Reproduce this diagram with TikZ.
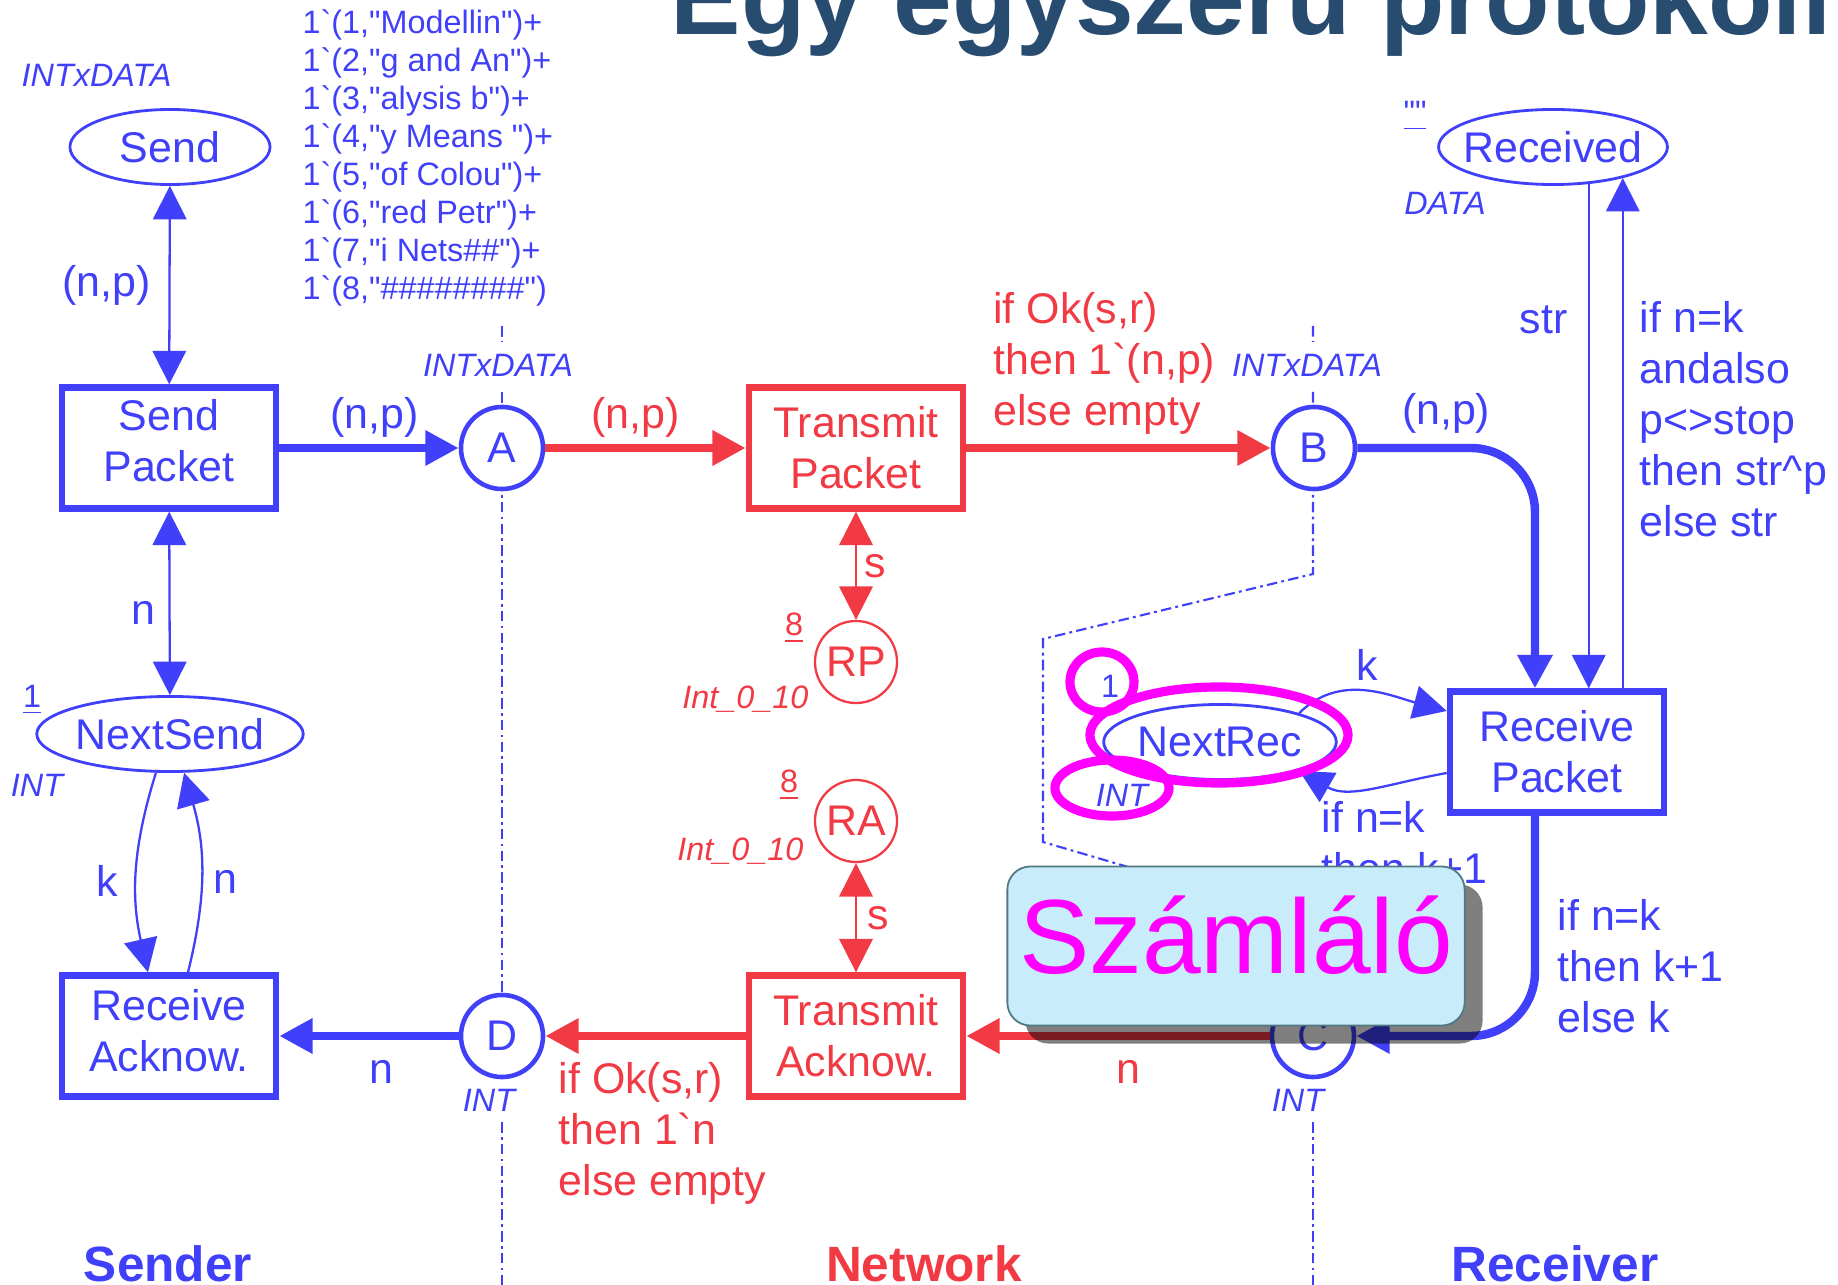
\documentclass[tikz,border=0pt]{standalone}
\usepackage{fontspec}
\setmainfont{Liberation Sans}
\newfontfamily\netfont{Liberation Sans}
\usetikzlibrary{arrows.meta,positioning,shapes.geometric,shadows}

\definecolor{netblue}{RGB}{64,64,250}
\definecolor{netred}{RGB}{242,58,68}
\definecolor{titleblue}{RGB}{40,76,112}
\definecolor{notecyan}{RGB}{200,236,250}
\definecolor{noteedge}{RGB}{80,120,130}
\definecolor{notepink}{RGB}{255,0,255}

\begin{document}
\begin{tikzpicture}[x=0.01cm, y=-0.01cm,
    every node/.style={inner sep=0pt, font=\netfont\fontsize{12.2}{14.5}\selectfont},
    >={Triangle[length=9.5pt,width=9.5pt]},
    trans/.style={draw, rectangle, line width=1.8pt, fill=white, minimum width=2.14cm, minimum height=1.21cm, align=center},
    place/.style={draw, circle, line width=1.3pt, fill=white, minimum size=0.82cm},
    pool/.style={draw, ellipse, line width=0.8pt, fill=white, minimum height=0.75cm},
    colset/.style={font=\netfont\itshape\fontsize{9.2}{11}\selectfont},
    initmark/.style={font=\netfont\fontsize{9.2}{10.8}\selectfont},
    fat/.style={line width=2.4pt},
    lean/.style={line width=0.65pt},
    sideline/.style={netblue, line width=0.6pt, dash pattern=on 3pt off 1.2pt on 0.8pt off 1.2pt},
    circled/.style={notepink, line width=2.6pt},
    blueitem/.style={draw=netblue, text=netblue},
    reditem/.style={draw=netred, text=netred}]
  \useasboundingbox (0,0) rectangle (1838,1285);
  \clip (0,0) rectangle (1838,1285);

  \node[anchor=base west, text=titleblue, font=\netfont\bfseries\fontsize{30}{30}\selectfont] (title) at (670,35) {Egy egyszerű protokoll};

  \draw[sideline] (502,326) -- (502,342) (502,392) -- (502,420) (502,480) -- (502,1000) (502,1122) -- (502,1285);
  \draw[sideline] (1313,326) -- (1313,342) (1313,392) -- (1313,420) (1313,480) -- (1313,574) -- (1043,639) -- (1043,842) -- (1200,888);
  \draw[sideline] (1313,1122) -- (1313,1285);

  \node[pool, blueitem, minimum width=2cm] (send) at (170,147) {Send};
  \node[trans, blueitem] (sendpkt) at (169,448) {Send\\Packet\rule[-0.16cm]{0pt}{0pt}};
  \node[pool, blueitem] (nextsend) at (170,734) {NextSend};
  \node[trans, blueitem] (recack) at (169,1036) {Receive\\Acknow.\rule[-0.12cm]{0pt}{0pt}};
  \node[place, blueitem] (A) at (502,448) {A};
  \node[place, blueitem] (B) at (1314,448) {B};
  \node[place, blueitem] (C) at (1313,1036) {C};
  \node[place, blueitem] (D) at (502,1036) {D};
  \node[trans, reditem] (transpkt) at (856,448) {Transmit\\Packet};
  \node[trans, reditem] (transack) at (856,1036) {Transmit\\Acknow.};
  \node[place, reditem, line width=0.65pt] (RP) at (856,662) {RP};
  \node[place, reditem, line width=0.65pt] (RA) at (856,821) {RA};
  \node[trans, blueitem] (recpkt) at (1557,752) {Receive\\Packet};
  \node[pool, blueitem, inner xsep=-0.085cm] (received) at (1553,147) {Received};
  \node[pool, blueitem] (nextrec) at (1220,742) {NextRec};

  \draw[<->, lean, netblue] (send) -- (sendpkt) node[midway, left=0.18cm] (np1) {(n,p)};
  \draw[<->, lean, netblue] (sendpkt) -- (nextsend) node[pos=0.55, left=0.13cm] (n1) {n};
  \draw[->, lean, netblue] (nextsend.250) to[bend right=15] node[pos=0.55, left=0.17cm] (k1) {k} ([xshift=-0.21cm]recack.north);
  \draw[->, lean, netblue] ([xshift=0.19cm]recack.north) to[bend right=15] node[pos=0.45, right=0.11cm] (n2) {n} (nextsend.290);
  \draw[->, fat, netblue] (sendpkt) -- (A) node[pos=0.53, above=0.06cm] (np2) {(n,p)};
  \draw[->, fat, netred] (A) -- (transpkt) node[pos=0.45, above=0.06cm] (np3) {(n,p)};
  \draw[->, fat, netred] (transpkt) -- (B) node[pos=0, anchor=south west, xshift=0.23cm, yshift=0.09cm, align=left] (ok1) {if Ok(s,r)\\then 1`(n,p)\\else empty};
  \draw[->, fat, netblue, rounded corners=0.64cm] (B) -| ([xshift=-0.22cm]recpkt.north) node[pos=0.25, above=0.1cm] (np4) {(n,p)};
  \draw[->, lean, netblue] (received.314) -- (received.314 |- recpkt.north) node[pos=0.27, left=0.2cm] (str1) {str};
  \draw[<-, lean, netblue] (received.336) -- (received.336 |- recpkt.north) node[pos=0.24, anchor=north west, xshift=0.16cm, align=left] (guard1) {if n=k\\andalso\\p<>stop\\then str\textasciicircum p\\else str};
  \draw[->, lean, netblue] (nextrec.20) to[out=45, in=165] node[above=0.1cm] (k2) {k} ([yshift=0.41cm]recpkt.west);
  \draw[->, lean, netblue] ([yshift=-0.21cm]recpkt.west) to[out=190, in=-30] (nextrec.-20);
  \node[netblue, anchor=north west, align=left] (guard2) at (1321,801) {if n=k\\then k+1};
  \draw[->, fat, netblue, rounded corners=0.64cm] ([xshift=-0.22cm]recpkt.south) |- (C);
  \node[netblue, anchor=north west, align=left] (guard3) at (1557,899) {if n=k\\then k+1\\else k};
  \draw[->, fat, netred] (C) -- (transack) node[pos=0.467, below=0.2cm] (n3) {n};
  \draw[->, fat, netred] (transack) -- (D);
  \node[netred, anchor=north west, align=left] (ok2) at (558,1062) {if Ok(s,r)\\then 1`n\\else empty};
  \draw[->, fat, netblue] (D) -- (recack) node[pos=0.43, below=0.2cm] (n4) {n};
  \draw[<->, lean, netred] (transpkt) -- (RP) node[midway, right=0.07cm] (s1) {s};
  \draw[<->, lean, netred] (RA) -- (transack) node[midway, right=0.1cm] (s2) {s};

  \node[colset, netblue, anchor=west] (sendcs) at (21,75) {INTxDATA};
  \node[initmark, netblue, anchor=north west, align=left] (sendinit) at (302,9) {1`(1,"Modellin")+\\1`(2,"g and An")+\\1`(3,"alysis b")+\\1`(4,"y Means ")+\\1`(5,"of Colou")+\\1`(6,"red Petr")+\\1`(7,"i Nets\#\#")+\\1`(8,"\#\#\#\#\#\#\#\#")};
  \node[colset, netblue] (Acs) at (498,365) {INTxDATA};
  \node[colset, netblue] (Bcs) at (1307,365) {INTxDATA};
  \node[colset, netblue] (Ccs) at (1298,1100) {INT};
  \node[colset, netblue] (Dcs) at (489,1100) {INT};
  \node[initmark, netblue] (nsinit) at (32,700) {\underline{1}};
  \node[colset, netblue] (nscs) at (37,785) {INT};
  \node[initmark, netred] (rpinit) at (794,628) {\underline{8}};
  \node[colset, netred, anchor=east] (rpcs) at (809,699) {Int\_0\_10};
  \node[initmark, netred] (rainit) at (789,785) {\underline{8}};
  \node[colset, netred, anchor=east] (racs) at (804,851) {Int\_0\_10};
  \node[initmark, netblue] (rcinit) at (1415,116) {\underline{""}};
  \node[colset, netblue] (rccs) at (1445,203) {DATA};
  \node[initmark, netblue] (nrinit) at (1110,686) {1};
  \node[colset, netblue] (nrcs) at (1122,795) {INT};

  \node[netblue, anchor=base, font=\netfont\bfseries\fontsize{14.1}{16}\selectfont] (sender) at (168,1281) {Sender};
  \node[netred, anchor=base, font=\netfont\bfseries\fontsize{14.1}{16}\selectfont] (network) at (924,1281) {Network};
  \node[netblue, anchor=base, font=\netfont\bfseries\fontsize{14.1}{16}\selectfont] (receiver) at (1555,1281) {Receiver};

  \draw[circled] (1102,682) ellipse [x radius=0.32cm, y radius=0.30cm];
  \draw[circled] (1219,735) ellipse [x radius=1.29cm, y radius=0.48cm];
  \draw[circled] (1112,788) ellipse [x radius=0.57cm, y radius=0.28cm];

  \node[draw=noteedge, fill=notecyan, line width=0.5pt, rounded corners=0.23cm, minimum width=4.57cm, minimum height=1.59cm, drop shadow={shadow xshift=0.18cm, shadow yshift=-0.18cm, opacity=0.5, fill=black}] (note) at (1236,946) {};
  \node[anchor=base, text=notepink, font=\netfont\fontsize{30}{30}\selectfont] (notetext) at (1236,973) {Számláló};
\end{tikzpicture}
\end{document}
